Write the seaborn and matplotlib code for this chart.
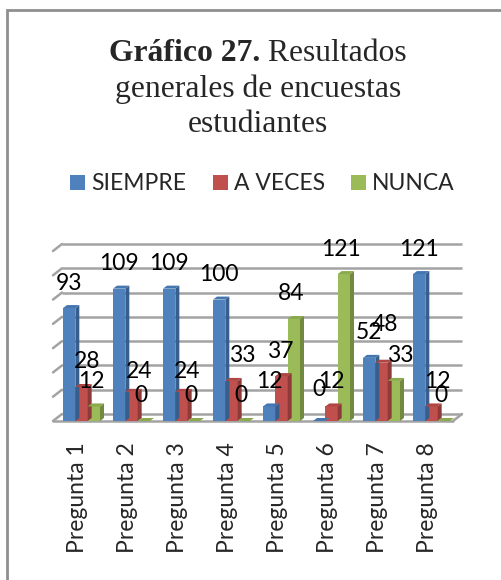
import numpy as np
import pandas as pd
import matplotlib
matplotlib.use("Agg")
import matplotlib.pyplot as plt
from matplotlib.patches import Polygon, Rectangle, Patch
import seaborn as sns

# ---- data -------------------------------------------------------------
preguntas = ["Pregunta 1", "Pregunta 2", "Pregunta 3", "Pregunta 4",
             "Pregunta 5", "Pregunta 6", "Pregunta 7", "Pregunta 8"]
series = ["SIEMPRE", "A VECES", "NUNCA"]
siempre = [93, 109, 109, 100, 12, 0, 52, 121]
a_veces = [28, 24, 24, 33, 37, 12, 48, 12]
nunca = [12, 0, 0, 0, 84, 121, 33, 0]

titulo_negrita = "Gráfico 27."
titulo_resto = [" Resultados", "generales de encuestas", "estudiantes"]

# ---- styling ----------------------------------------------------------
W, H, DPI = 501, 580, 100
front = {"SIEMPRE": "#4F81BD", "A VECES": "#C0504D", "NUNCA": "#9BBB59"}
side = {"SIEMPRE": "#385E8C", "A VECES": "#8E3A38", "NUNCA": "#718A40"}
top = {"SIEMPRE": "#4676B0", "A VECES": "#B04643", "NUNCA": "#8AAA4D"}
grid_c = "#a3a3a3"
sans = "Lato"
serif = "Liberation Serif"
fs = 16.5

sns.set_theme(style="white")
plt.rcParams["font.family"] = [sans, "DejaVu Sans"]

df = pd.DataFrame({
    "pregunta": np.repeat(preguntas, len(series)),
    "serie": series * len(preguntas),
    "valor": np.ravel(np.column_stack([siempre, a_veces, nunca])),
})

fig = plt.figure(figsize=(W / DPI, H / DPI), dpi=DPI)
fig.patch.set_facecolor("white")

# outer chart frame (top and left edges visible)
fig.add_artist(Rectangle((7 / W, -0.1), 1.2, 1 - 10 / H + 0.1,
                         transform=fig.transFigure, fill=False,
                         edgecolor="#8f8f8f", linewidth=2))

# plot area: floor front edge at y=421px, value 140 at y=251px
ax_l, ax_r, ax_b, ax_t = 53, 453, 421, 251
ax = fig.add_axes([ax_l / W, 1 - ax_b / H, (ax_r - ax_l) / W, (ax_b - ax_t) / H])
ax.set_facecolor("none")

sns.barplot(data=df, x="pregunta", y="valor", hue="serie", order=preguntas,
            hue_order=series, palette=front, saturation=1, width=0.74,
            linewidth=0, legend=False, ax=ax, zorder=3)
ax.set_xlim(-0.5, 7.5)
ax.set_ylim(0, 140)

px_x = (ax_r - ax_l) / 8.0           # pixels per category
px_y = (ax_b - ax_t) / 140.0          # pixels per value unit

# 3-D walls: back gridlines offset in depth, short slants on the side wall
wall_dx, wall_dy = 9 / px_x, 7 / px_y
for v in range(0, 141, 20):
    ax.plot([-0.5 + wall_dx, 7.5 + wall_dx], [v + wall_dy] * 2, color=grid_c,
            lw=1.8, zorder=1, clip_on=False, solid_capstyle="butt")
    ax.plot([-0.5, -0.5 + wall_dx], [v, v + wall_dy], color=grid_c,
            lw=1.8, zorder=1, clip_on=False)
# floor front edge and right slant
ax.plot([-0.5, 7.5], [0, 0], color=grid_c, lw=1.8, zorder=1, clip_on=False)
ax.plot([7.5, 7.5 + wall_dx], [0, wall_dy], color=grid_c, lw=1.8, zorder=1,
        clip_on=False)

# bar depth faces
bar_shift = 3.5 / px_x
bdx, bdy = 4 / px_x, 3 / px_y
for name, cont in zip(series, ax.containers):
    for bar in cont:
        bar.set_x(bar.get_x() + bar_shift)
        x0, w, h = bar.get_x(), bar.get_width(), bar.get_height()
        x1 = x0 + w
        ax.add_patch(Polygon([(x1, 0), (x1, h), (x1 + bdx, h + bdy), (x1 + bdx, bdy)],
                             closed=True, facecolor=side[name], edgecolor="none",
                             zorder=3, clip_on=False))
        ax.add_patch(Polygon([(x0, h), (x1, h), (x1 + bdx, h + bdy), (x0 + bdx, h + bdy)],
                             closed=True, facecolor=top[name], edgecolor="none",
                             zorder=3, clip_on=False))

# value labels
label_dx = {"SIEMPRE": 0, "A VECES": 6, "NUNCA": -2.5}
label_nudge = {(1, "A VECES"): (2, -5), (2, "A VECES"): (0, -5),
               (3, "A VECES"): (5, 0), (4, "A VECES"): (-7, 0),
               (5, "SIEMPRE"): (0, 7), (5, "A VECES"): (-6.5, 0),
               (6, "A VECES"): (-2.5, 13), (6, "NUNCA"): (8.5, 0)}
for name, cont in zip(series, ax.containers):
    for i, bar in enumerate(cont):
        h = bar.get_height()
        nx, ny = label_nudge.get((i, name), (0, 0))
        ax.annotate(f"{h:.0f}", xy=(bar.get_x() + bar.get_width() / 2, h),
                    xytext=(label_dx[name] + nx, 18.5 + ny),
                    textcoords="offset pixels", ha="center", va="baseline",
                    fontsize=fs, fontfamily=sans, color="black", zorder=5,
                    annotation_clip=False)

# axes: category labels and boundary ticks
sns.despine(ax=ax, left=True, bottom=True)
ax.set_xlabel("")
ax.set_ylabel("")
ax.set_yticks([])
ax.set_xticks(range(len(preguntas)))
ax.set_xticklabels(preguntas, rotation=90, fontsize=fs, fontfamily=sans)
ax.set_xticks(np.arange(-0.5, 8, 1), minor=True)
ax.tick_params(axis="x", which="major", length=0, pad=15)
ax.tick_params(axis="x", which="minor", length=7.5, width=1.6, color=grid_c)

# legend
handles = [Patch(facecolor=front[s], edgecolor="none") for s in series]
fig.legend(handles, series, loc="center", bbox_to_anchor=(262.5 / W, 1 - 184 / H),
           ncol=3, frameon=False, handlelength=0.65, handleheight=0.65,
           handletextpad=0.26, columnspacing=1.17,
           prop={"family": sans, "size": fs})

# title: bold lead-in followed by regular text, centred lines
tfs = 22.8
cx = 258
renderer = fig.canvas.get_renderer()
t1 = fig.text(0, 1 - 61 / H, titulo_negrita, fontfamily=serif, fontweight="bold",
              fontsize=tfs, ha="left", va="baseline")
t2 = fig.text(0, 1 - 61 / H, titulo_resto[0], fontfamily=serif, fontsize=tfs,
              ha="left", va="baseline")
w1 = t1.get_window_extent(renderer).width
w2 = t2.get_window_extent(renderer).width
start = cx - (w1 + w2) / 2
t1.set_x(start / W)
t2.set_x((start + w1) / W)
for line, base in zip(titulo_resto[1:], [96.5, 132]):
    fig.text(cx / W, 1 - base / H, line, fontfamily=serif, fontsize=tfs,
             ha="center", va="baseline")

fig.savefig("out.png", dpi=DPI, facecolor="white")
